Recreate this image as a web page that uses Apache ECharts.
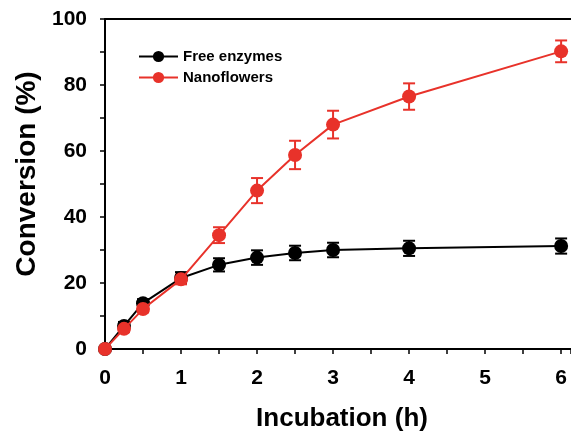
<!DOCTYPE html>
<html>
<head>
<meta charset="utf-8">
<script src="https://cdn.jsdelivr.net/npm/echarts@6/dist/echarts.min.js"></script>
<style>
  html, body { margin: 0; padding: 0; background: #fff; }
  #echart { width: 571px; height: 433px; }
</style>
</head>
<body>
<div id="echart"></div>
<script>
var hours = [0, 0.25, 0.5, 1, 1.5, 2, 2.5, 3, 4, 6];
var freeVals = [0, 7, 13.9, 21.5, 25.5, 27.7, 29.1, 30, 30.5, 31.2];
var freeErr = [0, 1.2, 1.2, 1.8, 2, 2.2, 2.2, 2.2, 2.3, 2.3];
var nanoVals = [0, 6.1, 12.1, 21.1, 34.5, 48, 58.8, 68, 76.5, 90.2];
var nanoErr = [0, 1, 1, 1.5, 2.4, 3.8, 4.3, 4.2, 4, 3.3];
var yTicks = [0, 20, 40, 60, 80, 100];
var xTicks = [0, 1, 2, 3, 4, 5, 6];

var RED = '#e8322a';
var BLACK = '#000';
var FONT = 'Liberation Sans';

function pts(vals) {
    return hours.map(function (h, i) { return [h, vals[i]]; });
}
function errData(vals, errs) {
    return hours.map(function (h, i) { return [h, vals[i] - errs[i], vals[i] + errs[i]]; });
}
function errSeries(vals, errs, color) {
    return {
        type: 'custom',
        data: errData(vals, errs),
        silent: true,
        z: 1,
        renderItem: function (params, api) {
            var lo = api.coord([api.value(0), api.value(1)]);
            var hi = api.coord([api.value(0), api.value(2)]);
            var w = 6;
            var st = { stroke: color, lineWidth: 2 };
            return {
                type: 'group',
                children: [
                    { type: 'line', shape: { x1: lo[0], y1: lo[1], x2: hi[0], y2: hi[1] }, style: st },
                    { type: 'line', shape: { x1: lo[0] - w, y1: lo[1], x2: lo[0] + w, y2: lo[1] }, style: st },
                    { type: 'line', shape: { x1: hi[0] - w, y1: hi[1], x2: hi[0] + w, y2: hi[1] }, style: st }
                ]
            };
        }
    };
}

var myChart = echarts.init(document.getElementById('echart'));
var option = {
    animation: false,
    textStyle: { fontFamily: FONT },
    grid: { left: 105, right: 0, top: 19, bottom: 84, containLabel: false, outerBoundsMode: 'none' },
    legend: {
        orient: 'vertical',
        left: 133,
        top: 44,
        itemWidth: 39,
        itemHeight: 14,
        itemGap: 6,
        textStyle: { color: BLACK, fontFamily: FONT, fontWeight: 'bold', fontSize: 15 },
        data: ['Free enzymes', 'Nanoflowers']
    },
    xAxis: [
        {
            type: 'value',
            min: 0,
            max: 6.13,
            interval: 0.5,
            name: 'Incubation (h)',
            nameLocation: 'middle',
            nameGap: 57,
            nameTextStyle: { color: BLACK, fontFamily: FONT, fontWeight: 'bold', fontSize: 26, padding: [0, 0, 0, 8] },
            axisLine: { lineStyle: { color: BLACK, width: 2 } },
            axisTick: { length: 5, lineStyle: { color: BLACK, width: 1.5 } },
            axisLabel: {
                margin: 19,
                color: BLACK, fontFamily: FONT, fontWeight: 'bold', fontSize: 21,
                formatter: function (v) { return xTicks.indexOf(v) >= 0 ? String(v) : ''; }
            },
            splitLine: { show: false }
        },
        {
            type: 'value',
            position: 'top',
            min: 0,
            max: 6.13,
            axisLine: { onZero: false, lineStyle: { color: BLACK, width: 2 } },
            axisTick: { show: false },
            axisLabel: { show: false },
            splitLine: { show: false }
        }
    ],
    yAxis: {
        type: 'value',
        min: 0,
        max: 100,
        interval: 10,
        name: 'Conversion (%)',
        nameLocation: 'middle',
        nameGap: 64,
        nameRotate: 90,
        nameTextStyle: { color: BLACK, fontFamily: FONT, fontWeight: 'bold', fontSize: 28, padding: [0, 0, 0, 20] },
        axisLine: { show: true, lineStyle: { color: BLACK, width: 2 } },
        axisTick: { show: true, length: 5, lineStyle: { color: BLACK, width: 1.5 } },
        axisLabel: {
            margin: 18,
            color: BLACK, fontFamily: FONT, fontWeight: 'bold', fontSize: 21,
            formatter: function (v) { return yTicks.indexOf(v) >= 0 ? String(v) : ''; }
        },
        splitLine: { show: false }
    },
    series: [
        errSeries(freeVals, freeErr, BLACK),
        {
            name: 'Free enzymes',
            type: 'line',
            data: pts(freeVals),
            symbol: 'circle',
            symbolSize: 14,
            z: 2,
            itemStyle: { color: BLACK },
            lineStyle: { color: BLACK, width: 2 }
        },
        errSeries(nanoVals, nanoErr, RED),
        {
            name: 'Nanoflowers',
            type: 'line',
            data: pts(nanoVals),
            symbol: 'circle',
            symbolSize: 14,
            z: 3,
            itemStyle: { color: RED },
            lineStyle: { color: RED, width: 2 }
        }
    ]
};
myChart.setOption(option);
window.onresize = myChart.resize;
</script>
</body>
</html>
